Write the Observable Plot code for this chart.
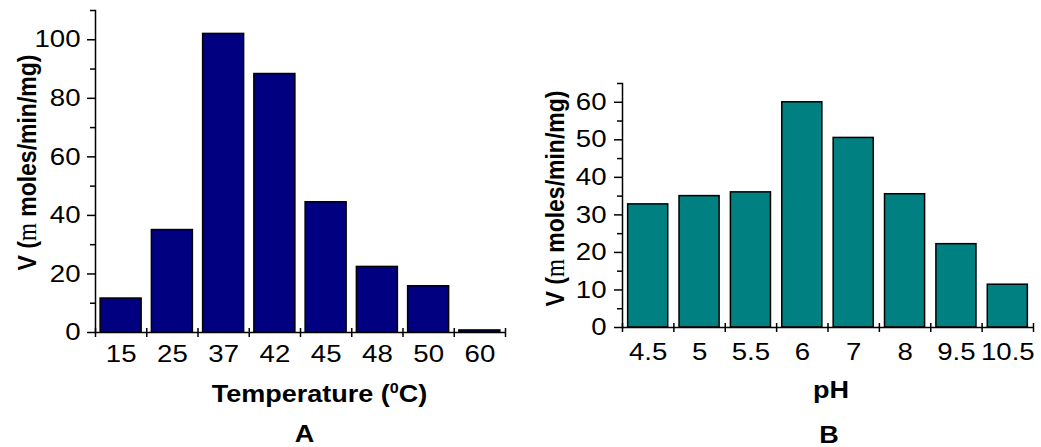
<!DOCTYPE html>
<html><head><meta charset="utf-8">
<script src="https://cdn.jsdelivr.net/npm/d3@7"></script>
<script src="https://cdn.jsdelivr.net/npm/@observablehq/plot@0.6"></script>
<style>
body{margin:0;background:#fff;}
#wrap{display:flex;width:1041px;height:447px;overflow:hidden;}
</style></head><body><div id="wrap"></div>
<script>
// Panel A: temperature
const tempCategories = ["15","25","37","42","45","48","50","60"];
const tempValues = [11.6, 35, 102, 88.3, 44.5, 22.4, 15.8, 0.7];
const tempMajorTicks = [0,20,40,60,80,100];
const tempMinorTicks = [10,30,50,70,90,110];
// Panel B: pH
const phCategories = ["4.5","5","5.5","6","7","8","9.5","10.5"];
const phValues = [32.8, 35.0, 36.0, 60.0, 50.5, 35.5, 22.2, 11.4];
const phMajorTicks = [0,10,20,30,40,50,60];
const phMinorTicks = [5,15,25,35,45,55,65];

const yLabelText = "V (m moles/min/mg)";
const STRETCH = 1.15; // the reference lettering is wide

function makePanel(o) {
  const data = o.cats.map((c, i) => ({cat: c, v: o.vals[i]}));
  const step = (o.width - o.ml - o.mr) / o.cats.length;
  const svg = Plot.plot({
    width: o.width, height: 447,
    marginLeft: o.ml, marginRight: o.mr, marginTop: o.mt, marginBottom: o.mb,
    style: {fontFamily: "'Liberation Sans', Arial, sans-serif", fontSize: "24px", background: "#fff", color: "#000", overflow: "visible"},
    x: {type: "band", domain: o.cats, paddingInner: o.padIn, paddingOuter: o.padOut, round: false, label: null},
    y: {domain: o.yDomain, label: null},
    marks: [
      Plot.barY(data, {x: "cat", y: "v", fill: o.fill, stroke: "#000", strokeWidth: 1.5}),
      Plot.axisY({ticks: o.major, tickSize: 8, tickPadding: o.yTickPad, strokeWidth: 1.5, fontSize: 24, label: null}),
      Plot.axisY({ticks: o.minor, tickSize: 5, tickFormat: () => "", strokeWidth: 1.5, label: null}),
      Plot.axisX({tickSize: 0, tickPadding: o.xTickPad, fontSize: 24, label: null}),
      Plot.axisX({ticks: o.cats, tickSize: 9, dx: -step / 2, dy: -4, tickFormat: () => "", strokeWidth: 1.5, label: null}),
      Plot.axisX({ticks: [o.cats[o.cats.length - 1]], tickSize: 9, dx: step / 2, dy: -4, tickFormat: () => "", strokeWidth: 1.5, label: null}),
      Plot.frame({anchor: "left", strokeWidth: 1.5}),
      Plot.ruleY([0], {strokeWidth: 1.5}),
      Plot.text([yLabelText], {text: d => d, frameAnchor: "left", rotate: -90, dx: o.yLabelDx, dy: o.yLabelDy, textAnchor: "middle", lineAnchor: "middle", fontWeight: "bold", fontSize: 23}),
      Plot.text([o.xLabel], {text: d => d, frameAnchor: "bottom", dx: o.xLabelDx, dy: o.xLabelDy, textAnchor: "middle", lineAnchor: "middle", fontWeight: "bold", fontSize: 23.5}),
      Plot.text([o.panelLabel], {text: d => d, frameAnchor: "bottom", dx: o.panelDx, dy: o.panelDy, textAnchor: "middle", lineAnchor: "middle", fontWeight: "bold", fontSize: 23.5})
    ]
  });
  d3.select(svg).selectAll("text").each(function () {
    const t = this.textContent;
    const s = d3.select(this);
    // rich text: symbol-font "m" and superscript degree
    if (t === yLabelText) {
      s.text("");
      s.append("tspan").text("V (");
      s.append("tspan").attr("font-family", "'Liberation Serif', serif").attr("font-weight", "normal").text("m");
      s.append("tspan").text(" moles/min/mg)");
    } else if (t === "Temperature (0C)") {
      s.text("");
      s.append("tspan").text("Temperature (");
      s.append("tspan").attr("font-size", 14).attr("dy", -9).text("0");
      s.append("tspan").attr("dy", 9).text("C)");
    }
    // widen lettering around its anchor
    const tr = this.getAttribute("transform");
    if (tr) {
      this.setAttribute("transform", tr + (tr.includes("rotate") ? ` scale(1,${STRETCH})` : ` scale(${STRETCH},1)`));
    }
  });
  return svg;
}

const wrap = document.getElementById("wrap");
wrap.appendChild(makePanel({
  cats: tempCategories, vals: tempValues, fill: "#000080",
  yDomain: [0, 110], major: tempMajorTicks, minor: tempMinorTicks,
  width: 520, ml: 95, mr: 15, mt: 10, mb: 115,
  padIn: 0.2, padOut: 0.1, yTickPad: 7, xTickPad: 12,
  yLabelDx: -68, yLabelDy: -9,
  xLabel: "Temperature (0C)", xLabelDx: 19, xLabelDy: 62,
  panelLabel: "A", panelDx: 4, panelDy: 102
}));
wrap.appendChild(makePanel({
  cats: phCategories, vals: phValues, fill: "#008080",
  yDomain: [0, 65], major: phMajorTicks, minor: phMinorTicks,
  width: 521, ml: 102, mr: 8, mt: 83, mb: 120,
  padIn: 0.22, padOut: 0.11, yTickPad: 8, xTickPad: 15,
  yLabelDx: -67, yLabelDy: -7,
  xLabel: "pH", xLabelDx: 3, xLabelDy: 63,
  panelLabel: "B", panelDx: 1, panelDy: 108
}));
</script></body></html>
